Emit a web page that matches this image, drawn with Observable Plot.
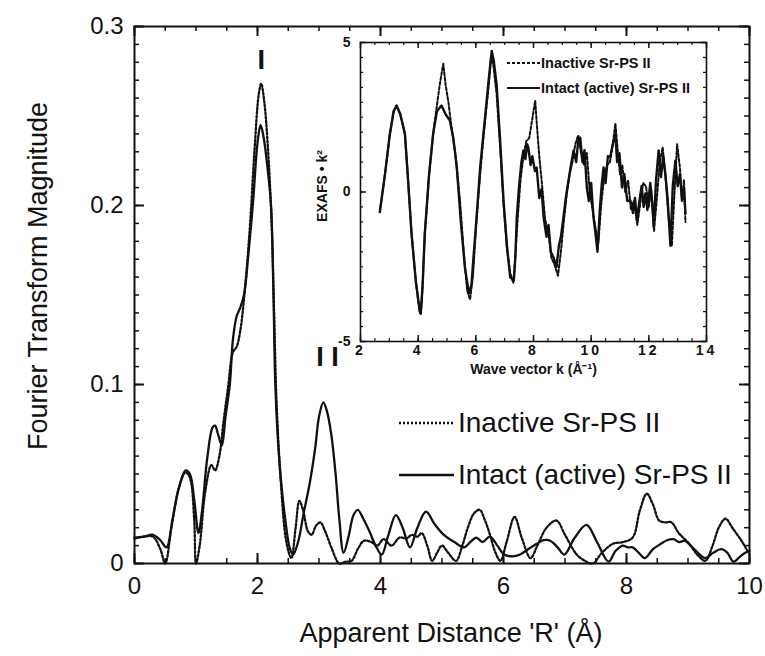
<!DOCTYPE html>
<html><head><meta charset="utf-8">
<script src="https://cdn.jsdelivr.net/npm/d3@7"></script>
<script src="https://cdn.jsdelivr.net/npm/@observablehq/plot@0.6"></script>
<style>
body{margin:0;background:#fff;}
#wrap{position:relative;width:765px;height:656px;font-family:"Liberation Sans",Arial,Helvetica,sans-serif;color:#111;overflow:hidden;}
#wrap > svg{position:absolute;left:0;top:0;}
#inset{position:absolute;left:300px;top:30px;}
.leg{position:absolute;display:flex;align-items:center;white-space:nowrap;}
.leg svg{display:block;}
.inset-x text{letter-spacing:3px;}
</style></head><body><div id="wrap"><div id="inset"></div></div>
<script>
// ---------- main panel data: Fourier transform magnitude vs R ----------
const rActive = [0.00,0.15,0.30,0.42,0.52,0.62,0.72,0.83,0.90,0.97,1.04,1.10,1.18,1.27,1.31,1.36,1.42,1.48,1.55,1.60,1.66,1.72,1.78,1.85,1.93,2.00,2.05,2.10,2.16,2.22,2.26,2.29,2.35,2.45,2.53,2.58,2.66,2.75,2.85,2.94,3.00,3.07,3.13,3.20,3.27,3.33,3.40,3.48,3.56,3.63,3.72,3.82,3.92,4.02,4.12,4.25,4.36,4.48,4.60,4.74,4.88,5.03,5.20,5.36,5.46,5.56,5.66,5.78,5.90,6.01,6.14,6.27,6.40,6.54,6.65,6.76,6.88,6.99,7.15,7.35,7.52,7.71,7.82,7.94,8.02,8.10,8.20,8.30,8.43,8.56,8.66,8.76,8.86,8.95,9.10,9.28,9.41,9.54,9.64,9.74,9.85,9.93,10.0];
const mActive = [0.0145,0.015,0.016,0.013,0.009,0.025,0.042,0.052,0.050,0.036,0.017,0.030,0.058,0.076,0.077,0.072,0.066,0.082,0.100,0.125,0.138,0.143,0.150,0.172,0.203,0.235,0.245,0.238,0.222,0.200,0.150,0.100,0.060,0.025,0.008,0.005,0.012,0.028,0.045,0.065,0.082,0.090,0.085,0.072,0.050,0.025,0.006,0.015,0.027,0.030,0.025,0.018,0.010,0.005,0.015,0.027,0.020,0.009,0.020,0.029,0.022,0.016,0.012,0.009,0.012,0.0145,0.012,0.015,0.010,0.005,0.004,0.005,0.008,0.011,0.013,0.0127,0.009,0.005,0.014,0.0216,0.012,0.001,0.007,0.010,0.009,0.009,0.006,0.003,0.008,0.011,0.013,0.0136,0.012,0.0127,0.008,0.003,0.006,0.008,0.006,0.001,0.004,0.006,0.007];
const rInactive = [0.00,0.15,0.30,0.42,0.50,0.60,0.72,0.83,0.90,0.97,1.00,1.06,1.15,1.25,1.31,1.38,1.45,1.52,1.60,1.66,1.72,1.80,1.88,1.95,2.02,2.06,2.11,2.17,2.23,2.27,2.31,2.38,2.47,2.55,2.62,2.68,2.74,2.82,2.88,2.95,3.02,3.10,3.20,3.33,3.43,3.53,3.63,3.73,3.85,3.95,4.05,4.18,4.31,4.42,4.51,4.60,4.67,4.76,4.84,4.92,5.00,5.10,5.23,5.33,5.42,5.52,5.61,5.70,5.78,5.87,5.95,6.05,6.18,6.30,6.44,6.55,6.70,6.86,7.00,7.19,7.30,7.45,7.60,7.78,7.95,8.10,8.22,8.33,8.43,8.53,8.63,8.73,8.85,9.02,9.15,9.28,9.40,9.50,9.61,9.72,9.87,9.97,10.0];
const mInactive = [0.014,0.015,0.015,0.008,0.000,0.020,0.042,0.051,0.048,0.025,0.000,0.010,0.040,0.055,0.052,0.060,0.080,0.098,0.118,0.121,0.130,0.155,0.190,0.230,0.262,0.268,0.258,0.232,0.190,0.140,0.090,0.045,0.012,0.003,0.020,0.035,0.030,0.018,0.016,0.021,0.023,0.018,0.009,0.000,0.001,0.0015,0.008,0.0127,0.012,0.010,0.0136,0.010,0.0145,0.014,0.016,0.015,0.017,0.010,0.0015,0.006,0.010,0.006,0.0015,0.010,0.020,0.028,0.030,0.024,0.016,0.006,0.0015,0.012,0.026,0.014,0.003,0.010,0.020,0.024,0.016,0.005,0.002,0.000,0.006,0.011,0.012,0.0145,0.030,0.039,0.033,0.024,0.023,0.023,0.017,0.011,0.005,0.0015,0.010,0.020,0.025,0.020,0.0127,0.007,0.006];
const seriesNames = ["Inactive Sr-PS II", "Intact (active) Sr-PS II"];
const peakR = [2.06, 3.14];
const peakM = [0.281, 0.115];
const peakText = ["I", "I I"];
const xTicksMain = [0, 2, 4, 6, 8, 10];
const yTicksMain = [0, 0.1, 0.2, 0.3];

// ---------- inset data: EXAFS * k^2 vs k ----------
const kActive = [2.67,2.85,3.02,3.15,3.25,3.38,3.54,3.65,3.77,3.92,4.05,4.09,4.15,4.23,4.38,4.52,4.65,4.81,4.95,5.10,5.22,5.34,5.48,5.62,5.76,5.85,5.91,6.03,6.15,6.30,6.43,6.55,6.62,6.72,6.85,6.96,7.08,7.19,7.32,7.37,7.42,7.50,7.58,7.65,7.72,7.78,7.82,7.90,7.96,8.05,8.11,8.20,8.28,8.35,8.45,8.52,8.60,8.69,8.80,8.88,8.95,9.04,9.12,9.20,9.30,9.39,9.48,9.55,9.62,9.70,9.77,9.85,9.92,10.00,10.08,10.14,10.22,10.30,10.37,10.43,10.50,10.58,10.66,10.75,10.84,10.90,10.98,11.07,11.15,11.25,11.36,11.45,11.52,11.59,11.66,11.75,11.82,11.88,11.95,12.05,12.12,12.17,12.25,12.34,12.42,12.50,12.57,12.65,12.75,12.83,12.92,13.00,13.08,13.15,13.22,13.27];
const eActive = [-0.67,0.6,1.95,2.7,2.89,2.6,1.95,0.4,-1.39,-3.0,-3.95,-4.06,-3.2,-1.39,0.6,1.95,2.7,2.89,2.6,2.39,1.8,0.82,-1.0,-2.52,-3.39,-3.1,-2.29,-0.8,0.82,2.3,3.6,4.72,4.4,3.6,1.6,-0.28,-1.8,-2.85,-2.95,-2.2,-0.84,0.2,1.0,1.39,1.1,1.6,1.49,0.9,1.2,0.7,0.82,-0.2,0.1,-0.84,-1.5,-1.1,-2.0,-2.18,-2.5,-1.8,-1.5,-0.84,-0.2,0.3,0.9,1.39,1.0,1.7,1.82,1.0,1.4,0.15,-0.3,0.3,-0.84,-1.3,-2.0,-0.6,0.3,0.82,0.3,1.2,1.16,1.6,1.95,1.0,1.3,0.15,0.6,-0.3,-0.28,-0.7,-0.2,-0.95,-0.4,0.2,-0.5,-0.05,-0.6,0.3,-0.4,-1.17,0.4,1.39,0.5,1.2,0.61,-0.2,-1.8,0.2,1.05,0.2,0.6,-0.28,0.1,-0.72];
const kInactive = [2.67,2.85,3.02,3.15,3.25,3.38,3.54,3.65,3.77,3.92,4.05,4.09,4.15,4.23,4.38,4.52,4.65,4.75,4.87,4.95,5.05,5.15,5.30,5.45,5.58,5.70,5.80,5.90,6.02,6.15,6.30,6.43,6.53,6.60,6.72,6.85,6.96,7.08,7.19,7.30,7.38,7.45,7.55,7.65,7.75,7.85,7.95,8.06,8.12,8.20,8.30,8.40,8.52,8.62,8.72,8.85,8.95,9.05,9.15,9.25,9.35,9.45,9.55,9.65,9.75,9.85,9.95,10.05,10.15,10.25,10.35,10.45,10.55,10.65,10.75,10.84,10.92,11.00,11.08,11.18,11.28,11.38,11.48,11.60,11.70,11.80,11.90,12.00,12.08,12.18,12.28,12.38,12.48,12.58,12.68,12.80,12.88,12.98,13.08,13.15,13.22,13.27];
const eInactive = [-0.67,0.6,1.95,2.7,2.89,2.6,1.95,0.4,-1.39,-3.0,-4.0,-4.1,-3.2,-1.39,0.6,1.95,2.9,3.6,4.29,3.6,3.0,2.2,1.2,-0.3,-2.0,-3.3,-3.6,-2.8,-1.0,0.6,2.2,3.4,4.5,4.3,3.3,1.4,-0.4,-1.9,-2.7,-3.05,-2.0,-0.9,0.4,1.2,1.7,1.8,2.4,3.06,2.2,1.2,0.2,-0.9,-1.4,-2.2,-2.4,-2.8,-2.0,-1.0,-0.1,0.6,1.0,1.6,1.9,1.3,0.9,1.3,0.0,-0.6,-1.2,-1.7,-0.4,0.5,0.9,1.0,1.6,2.3,1.4,0.6,0.9,0.0,0.4,-0.6,-0.3,-1.1,-0.4,0.3,0.2,-0.5,0.1,-1.3,-0.2,1.0,1.5,0.5,-0.8,-1.8,-0.2,1.6,0.8,-0.3,0.4,-1.0];
const xTicksInset = [2, 4, 6, 8, 10, 12, 14];
const yTicksInset = [-5, 0, 5];

// ---------- build tables ----------
const mainInactive = rInactive.map((r, i) => ({r, m: mInactive[i]}));
const mainActive = rActive.map((r, i) => ({r, m: mActive[i]}));
const peaks = peakR.map((r, i) => ({r, m: peakM[i], t: peakText[i]}));
const insInactive = kInactive.map((k, i) => ({k, e: eInactive[i]}));
const insActive = kActive.map((k, i) => ({k, e: eActive[i]}));

const FONT = '"Liberation Sans", Arial, Helvetica, sans-serif';
const wrap = document.getElementById("wrap");

// ---------- main plot ----------
const W = 765, H = 656, mL = 134, mR = 16, mT = 26, mB = 93;
const pw = W - mL - mR, ph = H - mT - mB;
const xMinor = d3.range(0, 10.0001, 0.5);
const yMinor = d3.range(0, 0.30001, 0.01);
const main = Plot.plot({
  width: W, height: H, marginLeft: mL, marginRight: mR, marginTop: mT, marginBottom: mB,
  x: {domain: [0, 10]},
  y: {domain: [0, 0.3]},
  style: {fontFamily: FONT, background: "transparent", color: "#111"},
  marks: [
    Plot.tickX(xMinor, {x: d => d, insetTop: ph - 5, strokeWidth: 1.5}),
    Plot.tickX(xMinor, {x: d => d, insetBottom: ph - 5, strokeWidth: 1.5}),
    Plot.tickX(xTicksMain, {x: d => d, insetTop: ph - 10, strokeWidth: 2}),
    Plot.tickX(xTicksMain, {x: d => d, insetBottom: ph - 10, strokeWidth: 2}),
    Plot.tickY(yMinor, {y: d => d, insetRight: pw - 5, strokeWidth: 1.5}),
    Plot.tickY(yMinor, {y: d => d, insetLeft: pw - 5, strokeWidth: 1.5}),
    Plot.tickY(yTicksMain, {y: d => d, insetRight: pw - 10, strokeWidth: 2}),
    Plot.tickY(yTicksMain, {y: d => d, insetLeft: pw - 10, strokeWidth: 2}),
    Plot.axisX({ticks: xTicksMain, tickSize: 0, tickPadding: 13, fontSize: 24, label: null}),
    Plot.axisY({ticks: yTicksMain, tickSize: 0, tickPadding: 11, fontSize: 24, label: null,
      tickFormat: d => d === 0 ? "0" : d.toFixed(1)}),
    Plot.line(mainInactive, {x: "r", y: "m", stroke: "#111", strokeWidth: 2.3, strokeDasharray: "2,2", curve: "catmull-rom"}),
    Plot.line(mainActive, {x: "r", y: "m", stroke: "#111", strokeWidth: 2.3, curve: "catmull-rom"}),
    Plot.frame({stroke: "#111", strokeWidth: 2}),
    Plot.text(["Apparent Distance 'R' (Å)"], {frameAnchor: "bottom", dx: 9, dy: 78, fontSize: 27, fill: "#111"}),
    Plot.text(["Fourier Transform Magnitude"], {frameAnchor: "left", textAnchor: "middle", rotate: -90, dx: -96, dy: -19, fontSize: 27, fill: "#111"}),
    Plot.text(peaks, {x: "r", y: "m", text: "t", fontSize: 27, fontWeight: "bold", fill: "#111"})
  ]
});
wrap.insertBefore(main, wrap.firstChild);

// ---------- legends ----------
function legend(parent, items, opts) {
  items.forEach((it, i) => {
    const row = document.createElement("div");
    row.className = "leg";
    row.style.left = opts.left + "px";
    row.style.top = (opts.top + i * opts.step) + "px";
    row.style.height = opts.h + "px";
    row.style.marginTop = (-opts.h / 2) + "px";
    row.style.font = `${opts.weight} ${opts.size}px ${FONT}`;
    const s = d3.create("svg").attr("width", opts.sw).attr("height", opts.h);
    s.append("line").attr("x1", 0).attr("x2", opts.sw).attr("y1", opts.h / 2).attr("y2", opts.h / 2)
      .attr("stroke", "#111").attr("stroke-width", opts.lw).attr("stroke-dasharray", it.dash);
    row.appendChild(s.node());
    const t = document.createElement("span");
    t.textContent = it.label;
    t.style.marginLeft = opts.gap + "px";
    row.appendChild(t);
    parent.appendChild(row);
  });
}
legend(wrap, [{label: seriesNames[0], dash: "2,2"}, {label: seriesNames[1], dash: null}],
  {left: 399, top: 423, step: 52, h: 34, sw: 55, lw: 2.3, gap: 4, size: 28, weight: "normal"});

// ---------- inset ----------
const IW = 420, IH = 365, iL = 60, iR = 14, iT = 12, iB = 54;
const ipw = IW - iL - iR, iph = IH - iT - iB;
const kMinor = d3.range(2, 14.0001, 0.5);
const eMinor = d3.range(-5, 5.0001, 0.5);
const inset = Plot.plot({
  width: IW, height: IH, marginLeft: iL, marginRight: iR, marginTop: iT, marginBottom: iB,
  x: {domain: [2, 14]},
  y: {domain: [-5, 5]},
  style: {fontFamily: FONT, background: "transparent", color: "#111", fontWeight: "bold"},
  marks: [
    Plot.frame({fill: "white", stroke: null}),
    Plot.tickX(kMinor, {x: d => d, insetTop: iph - 3, strokeWidth: 1.2}),
    Plot.tickX(kMinor, {x: d => d, insetBottom: iph - 3, strokeWidth: 1.2}),
    Plot.tickX(xTicksInset, {x: d => d, insetTop: iph - 6, strokeWidth: 1.5}),
    Plot.tickX(xTicksInset, {x: d => d, insetBottom: iph - 6, strokeWidth: 1.5}),
    Plot.tickY(eMinor, {y: d => d, insetRight: ipw - 3, strokeWidth: 1.2}),
    Plot.tickY(eMinor, {y: d => d, insetLeft: ipw - 3, strokeWidth: 1.2}),
    Plot.tickY(yTicksInset, {y: d => d, insetRight: ipw - 6, strokeWidth: 1.5}),
    Plot.tickY(yTicksInset, {y: d => d, insetLeft: ipw - 6, strokeWidth: 1.5}),
    Plot.axisX({ticks: xTicksInset, tickSize: 0, tickPadding: 4, fontSize: 14, label: null, className: "inset-x"}),
    Plot.axisY({ticks: yTicksInset, tickSize: 0, tickPadding: 10, fontSize: 14, label: null, tickFormat: d => String(d)}),
    Plot.line(insInactive, {x: "k", y: "e", stroke: "#111", strokeWidth: 2, strokeDasharray: "3,2"}),
    Plot.line(insActive, {x: "k", y: "e", stroke: "#111", strokeWidth: 2.4}),
    Plot.frame({stroke: "#111", strokeWidth: 1.6}),
    Plot.text(["Wave vector k (Å⁻¹)"], {frameAnchor: "bottom", dy: 32, fontSize: 14, fontWeight: "bold", fill: "#111"}),
    Plot.text(["EXAFS • k²"], {frameAnchor: "left", textAnchor: "middle", rotate: -90, dx: -38, dy: -6, fontSize: 14, fontWeight: "bold", fill: "#111"})
  ]
});
const insetDiv = document.getElementById("inset");
insetDiv.appendChild(inset);
legend(insetDiv, [{label: seriesNames[0], dash: "3,2"}, {label: seriesNames[1], dash: null}],
  {left: 207, top: 33, step: 25, h: 18, sw: 33, lw: 2, gap: 1, size: 14.5, weight: "bold"});
</script></body></html>
